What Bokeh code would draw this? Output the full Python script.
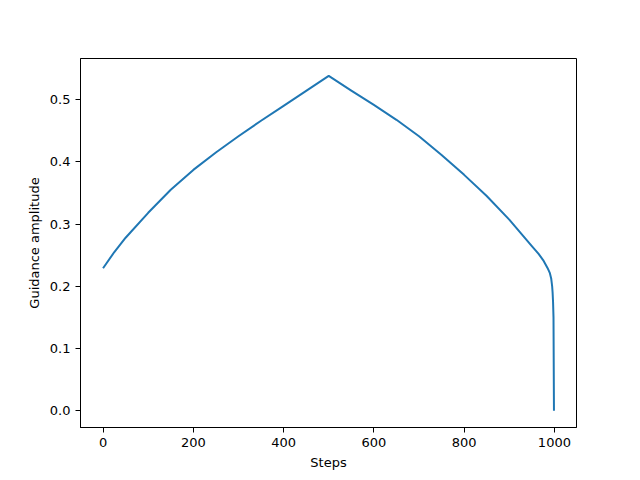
from bokeh.plotting import figure
from bokeh.models import FixedTicker, PrintfTickFormatter, Range1d
from bokeh.embed import file_html
from bokeh.resources import INLINE

steps = [0, 25, 50, 100, 150, 200, 250, 300, 350, 400, 450, 500,
         550, 600, 650, 700, 750, 800, 850, 900, 950, 965, 975, 985,
         990, 993, 995, 996, 997, 998, 999]
amplitude = [0.229, 0.255, 0.278, 0.318, 0.355, 0.387, 0.415, 0.441, 0.466, 0.490, 0.514, 0.538,
             0.5145, 0.4915, 0.4675, 0.441, 0.411, 0.379, 0.345, 0.307, 0.2645, 0.252, 0.242, 0.229,
             0.221, 0.212, 0.200, 0.190, 0.175, 0.150, 0.0]
x_ticks = [0, 200, 400, 600, 800, 1000]
y_ticks = [0.0, 0.1, 0.2, 0.3, 0.4, 0.5]

FONT = "DejaVu Sans"

p = figure(frame_width=496, frame_height=369, output_backend="svg", toolbar_location=None,
           x_range=Range1d(-49.95, 1048.95), y_range=Range1d(-0.027, 0.566),
           min_border_left=80, min_border_top=58, min_border_right=64, min_border_bottom=53,
           background_fill_color="white", border_fill_color="white")

p.line(steps, amplitude, line_color="#1f77b4", line_width=2, line_join="round", line_cap="butt")

p.xgrid.visible = False
p.ygrid.visible = False
p.outline_line_color = "black"
p.outline_line_width = 1
p.outline_line_alpha = 1

p.xaxis.ticker = FixedTicker(ticks=x_ticks)
p.yaxis.ticker = FixedTicker(ticks=y_ticks)
p.yaxis.formatter = PrintfTickFormatter(format="%.1f")
p.xaxis.axis_label = "Steps"
p.yaxis.axis_label = "Guidance amplitude"

for ax in (p.xaxis[0], p.yaxis[0]):
    ax.axis_line_color = "black"
    ax.major_tick_line_color = "black"
    ax.major_tick_in = 0
    ax.major_tick_out = 5
    ax.minor_tick_line_color = None
    ax.major_label_text_font = FONT
    ax.major_label_text_font_size = "13px"
    ax.major_label_text_color = "black"
    ax.axis_label_text_font = FONT
    ax.axis_label_text_font_size = "13px"
    ax.axis_label_text_font_style = "normal"
    ax.axis_label_text_color = "black"
    ax.major_label_standoff = 5
    ax.axis_label_standoff = 5

open("out.html", "w").write(file_html(p, INLINE))
